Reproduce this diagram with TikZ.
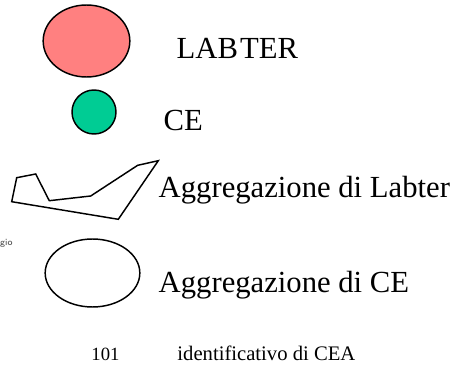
\documentclass[tikz,border=0pt]{standalone}
\usepackage{fontspec}
\setmainfont{Liberation Serif}
\usetikzlibrary{shapes.geometric}
\definecolor{labterred}{RGB}{255,128,128}
\definecolor{cegreen}{RGB}{0,204,148}
\begin{document}
\begin{tikzpicture}[x=0.75pt,y=-0.75pt,line width=1.1pt,
  legendtext/.style={anchor=base west,inner sep=0pt,font=\fontsize{23}{27}\selectfont},
  smalltext/.style={anchor=base west,inner sep=0pt,font=\fontsize{14}{17}\selectfont},
  blob/.style={ellipse,draw,inner sep=0pt}]
\useasboundingbox (0,0) rectangle (461,374);
% symbols
\node[blob,fill=labterred,minimum width=65pt,minimum height=54pt] (labter) at (86.5,41) {};
\node[blob,fill=cegreen,minimum width=33pt,minimum height=33pt] (ce) at (94,112) {};
\draw (11.7,201.7) -- (16.7,177.7) -- (35.7,174) -- (49.3,200.7) -- (90.7,196)
  -- (137.7,165.3) -- (158.3,160.7) -- (118.3,219.3) -- cycle;
\node[blob,fill=white,minimum width=71pt,minimum height=51pt] (aggce) at (92.5,273) {};
% labels
\node[legendtext] (labterlbl) at (176,59) {LAB\kern1.5pt TER};
\node[legendtext] (celbl) at (163,131) {CE};
\node[legendtext] (agglablbl) at (158,198) {Aggregazione di Labter};
\node[legendtext] (aggcelbl) at (158,292.5) {Aggregazione di CE};
\node[smalltext] (num) at (90.7,360.5) {101};
\node[smalltext,font=\fontsize{15.5}{18}\selectfont] (numlbl) at (176.7,360.5) {identificativo di CEA};
\node[anchor=base west,inner sep=0pt,font=\sffamily\fontsize{7}{8}\selectfont,text=black!75] (gio) at (-0.5,246) {gio};
\end{tikzpicture}
\end{document}
